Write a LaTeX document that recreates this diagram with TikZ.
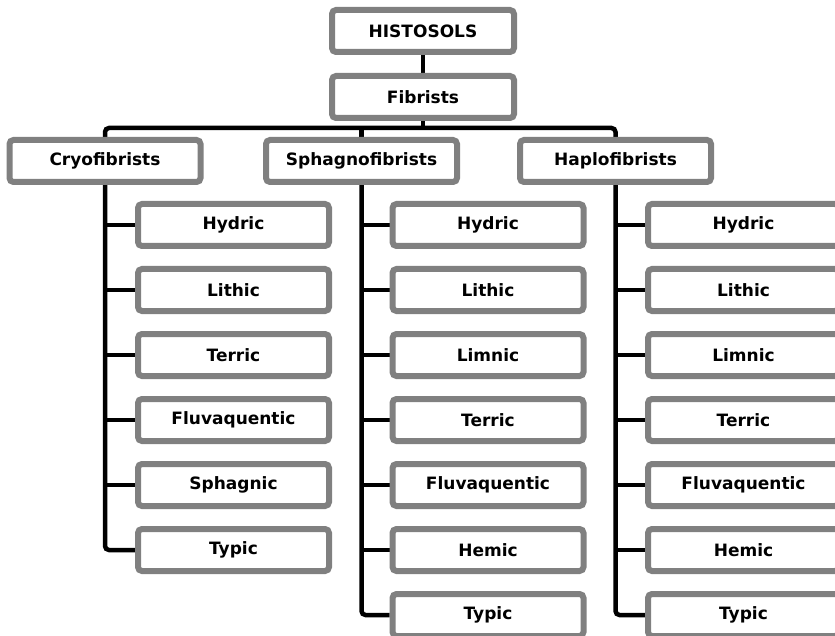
\documentclass[tikz,border=0pt]{standalone}
\usepackage{fontspec}
\setmainfont{DejaVu Sans}
\usetikzlibrary{backgrounds}
\begin{document}
\begin{tikzpicture}[x=1pt,y=-1pt,
  box/.style={draw=gray, line width=6pt, fill=white, rounded corners=4pt,
    minimum width=191pt, minimum height=42pt, inner sep=0pt,
    font=\fontsize{17}{20}\selectfont\bfseries},
  topbox/.style={box, minimum width=182pt},
  conn/.style={draw=black, line width=4.5pt}]
\useasboundingbox (0,0) rectangle (835,636);
% top
\node[topbox] (hist) at (423,31) {HISTOSOLS};
\node[topbox] (fib) at (423,97) {Fibrists};
\coordinate (bus) at (0,128);
% families
\node[box] (cryo) at (105,161) {Cryofibrists};
\node[box] (sph) at (361.5,161) {Sphagnofibrists};
\node[box] (hap) at (615.5,161) {Haplofibrists};
% column 1
\node[box] (a1) at (233.5,225) {Hydric};
\node[box] (a2) at (233.5,290) {Lithic};
\node[box] (a3) at (233.5,355) {Terric};
\node[box] (a4) at (233.5,420) {Fluvaquentic};
\node[box] (a5) at (233.5,485) {Sphagnic};
\node[box] (a6) at (233.5,550) {Typic};
% column 2
\node[box] (b1) at (488,225) {Hydric};
\node[box] (b2) at (488,290) {Lithic};
\node[box] (b3) at (488,355) {Limnic};
\node[box] (b4) at (488,420) {Terric};
\node[box] (b5) at (488,485) {Fluvaquentic};
\node[box] (b6) at (488,550) {Hemic};
\node[box] (b7) at (488,615) {Typic};
% column 3
\node[box] (c1) at (743.5,225) {Hydric};
\node[box] (c2) at (743.5,290) {Lithic};
\node[box] (c3) at (743.5,355) {Limnic};
\node[box] (c4) at (743.5,420) {Terric};
\node[box] (c5) at (743.5,485) {Fluvaquentic};
\node[box] (c6) at (743.5,550) {Hemic};
\node[box] (c7) at (743.5,615) {Typic};
\begin{scope}[on background layer]
  \draw[conn] (hist.south) -- (fib.north);
  \draw[conn] (fib.south) -- (fib.south |- bus);
  \draw[conn, rounded corners=4pt] (cryo.north) -- (cryo.north |- bus) -- (hap.north |- bus) -- (hap.north);
  \draw[conn] (sph.north) -- (sph.north |- bus);
  % column 1
  \draw[conn, rounded corners=4pt] (cryo.south) |- (a6.west);
  \foreach \n in {a1,a2,a3,a4,a5} \draw[conn] (cryo.south |- \n.west) -- (\n.west);
  % column 2
  \draw[conn, rounded corners=4pt] (sph.south) |- (b7.west);
  \foreach \n in {b1,b2,b3,b4,b5,b6} \draw[conn] (sph.south |- \n.west) -- (\n.west);
  % column 3
  \draw[conn, rounded corners=4pt] (hap.south) |- (c7.west);
  \foreach \n in {c1,c2,c3,c4,c5,c6} \draw[conn] (hap.south |- \n.west) -- (\n.west);
\end{scope}
\end{tikzpicture}
\end{document}
